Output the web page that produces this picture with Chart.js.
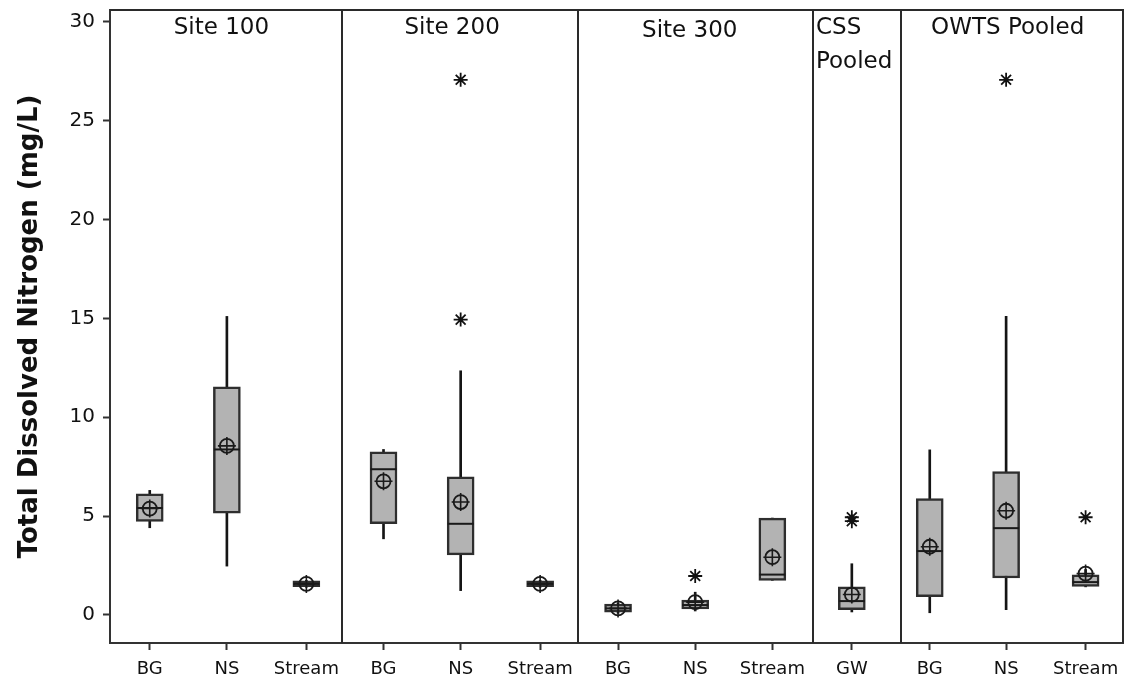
<!DOCTYPE html>
<html lang="en">
<head>
    <meta charset="UTF-8">
    <title>Total Dissolved Nitrogen by Site</title>
    <script src="https://cdn.jsdelivr.net/npm/chart.js@4.4.2/dist/chart.umd.min.js"></script>
    <style>
        body { margin: 0; background: #fff; }
        #wrap { position: relative; width: 1127px; height: 681px; }
    </style>
</head>
<body>
    <div id="wrap"><canvas id="tdnChart"></canvas></div>

    <script>
        // --- Data: one entry per box, left to right ---
        const categories   = ['BG', 'NS', 'Stream', 'BG', 'NS', 'Stream', 'BG', 'NS', 'Stream', 'GW', 'BG', 'NS', 'Stream'];
        const whiskerLow   = [4.41, 2.47, 1.40, 3.85, 1.23, 1.40, 0.08, 0.20, 1.75, 0.15, 0.11, 0.26, 1.42];
        const q1           = [4.73, 5.15, 1.43, 4.61, 3.04, 1.43, 0.14, 0.30, 1.75, 0.26, 0.92, 1.87, 1.44];
        const medians      = [5.41, 8.37, 1.57, 7.37, 4.61, 1.57, 0.33, 0.50, 2.04, 0.70, 3.23, 4.39, 1.66];
        const q3           = [6.13, 11.54, 1.72, 8.25, 6.98, 1.72, 0.55, 0.75, 4.90, 1.42, 5.89, 7.25, 2.03];
        const whiskerHigh  = [6.30, 15.10, 1.75, 8.37, 12.35, 1.75, 0.60, 1.15, 4.90, 2.59, 8.35, 15.10, 2.30];
        const means        = [5.38, 8.55, 1.57, 6.76, 5.71, 1.57, 0.33, 0.65, 2.92, 1.03, 3.45, 5.27, 2.09];
        // outliers as [box index, value]
        const outliers     = [[4, 14.94], [4, 27.07], [7, 1.97], [9, 4.74], [9, 4.94], [11, 27.07], [12, 4.94]];
        const yTicks       = [0, 5, 10, 15, 20, 25, 30];
        const panelTitles  = ['Site 100', 'Site 200', 'Site 300', ['CSS', 'Pooled'], 'OWTS Pooled'];

        // --- Layout on the x axis (slot units, 13 slots wide) ---
        const slotX = [0.51, 1.5, 2.52, 3.51, 4.5, 5.52, 6.52, 7.51, 8.5, 9.52, 10.52, 11.5, 12.52];
        const panelEdges = [2.98, 6, 9.02, 10.15];
        const titleSpots = [
            { x: 1.43, y: 28, align: 'center' },
            { x: 4.39, y: 28, align: 'center' },
            { x: 7.44, y: 31, align: 'center' },
            { x: 9.06, y: 28, align: 'left' },
            { x: 11.52, y: 28, align: 'center' }
        ];

        const FONT = 'DejaVu Sans';
        const INK = '#111';

        const boxData     = slotX.map((x, i) => ({ x, y: [q1[i], q3[i]] }));
        const whiskerData = slotX.map((x, i) => ({ x, y: [whiskerLow[i], whiskerHigh[i]] }));
        const medianData  = slotX.map((x, i) => ({ x, y: medians[i] }));
        const meanData    = slotX.map((x, i) => ({ x, y: means[i] }));
        const outlierData = outliers.map(([i, v]) => ({ x: slotX[i], y: v }));

        // panel dividers, frame and panel headings
        const panelPlugin = {
            id: 'panels',
            afterDatasetsDraw(chart) {
                const { ctx, chartArea: a, scales: { x } } = chart;
                ctx.save();
                ctx.strokeStyle = '#2a2a2a';
                ctx.lineWidth = 2;
                ctx.beginPath();
                panelEdges.forEach(v => {
                    const px = Math.round(x.getPixelForValue(v));
                    ctx.moveTo(px, a.top);
                    ctx.lineTo(px, a.bottom);
                });
                ctx.moveTo(a.left, a.top);
                ctx.lineTo(a.right, a.top);
                ctx.lineTo(a.right, a.bottom);
                ctx.stroke();

                ctx.fillStyle = INK;
                ctx.font = `23px "${FONT}"`;
                ctx.textBaseline = 'middle';
                panelTitles.forEach((t, i) => {
                    const s = titleSpots[i];
                    ctx.textAlign = s.align;
                    const lines = Array.isArray(t) ? t : [t];
                    lines.forEach((ln, k) => {
                        ctx.fillText(ln, x.getPixelForValue(s.x), s.y + k * 34);
                    });
                });
                ctx.restore();
            }
        };

        new Chart(document.getElementById('tdnChart'), {
            type: 'bar',
            data: {
                datasets: [
                    {
                        label: 'Whiskers',
                        data: whiskerData,
                        backgroundColor: '#151515',
                        borderWidth: 0,
                        barThickness: 2,
                        grouped: false,
                        order: 5
                    },
                    {
                        label: 'IQR',
                        data: boxData,
                        backgroundColor: '#b3b3b3',
                        borderColor: '#2e2e2e',
                        borderWidth: 2.5,
                        borderSkipped: false,
                        barThickness: 27,
                        grouped: false,
                        order: 4
                    },
                    {
                        type: 'scatter',
                        label: 'Median',
                        data: medianData,
                        pointStyle: 'line',
                        pointRadius: 13,
                        borderColor: '#1a1a1a',
                        borderWidth: 2,
                        order: 3
                    },
                    {
                        type: 'scatter',
                        label: 'Mean',
                        data: meanData,
                        pointStyle: 'circle',
                        pointRadius: 7,
                        backgroundColor: 'rgba(0,0,0,0)',
                        borderColor: '#1a1a1a',
                        borderWidth: 1.8,
                        order: 2
                    },
                    {
                        type: 'scatter',
                        label: 'Mean cross',
                        data: meanData,
                        pointStyle: 'cross',
                        pointRadius: 9,
                        borderColor: '#1a1a1a',
                        borderWidth: 1.6,
                        order: 1
                    },
                    {
                        type: 'scatter',
                        label: 'Outliers',
                        data: outlierData,
                        pointStyle: 'star',
                        pointRadius: 7,
                        borderColor: '#111',
                        borderWidth: 1.8,
                        order: 0
                    }
                ]
            },
            options: {
                responsive: true,
                maintainAspectRatio: false,
                animation: false,
                layout: { autoPadding: false, padding: { top: 10, right: 4, left: 0, bottom: 0 } },
                plugins: {
                    legend: { display: false },
                    tooltip: { enabled: false }
                },
                scales: {
                    x: {
                        type: 'linear',
                        min: 0,
                        max: 13,
                        offset: false,
                        afterBuildTicks: s => { s.ticks = slotX.map(v => ({ value: v })); },
                        afterFit: s => {
                            s.height = 38;
                            s.paddingLeft = 0;
                            s.paddingRight = 0;
                        },
                        ticks: {
                            autoSkip: false,
                            maxRotation: 0,
                            padding: 9,
                            color: INK,
                            font: { family: FONT, size: 18 },
                            callback: (v, i) => categories[i]
                        },
                        grid: { offset: false, drawOnChartArea: false, tickLength: 7, tickWidth: 2, tickColor: '#333' },
                        border: { color: '#333', width: 2 }
                    },
                    y: {
                        min: -1.42,
                        max: 30.6,
                        afterBuildTicks: s => { s.ticks = yTicks.map(v => ({ value: v })); },
                        afterFit: s => {
                            s.width = 110;
                            s.paddingTop = 0;
                            s.paddingBottom = 0;
                        },
                        ticks: {
                            padding: 8,
                            color: INK,
                            font: { family: FONT, size: 20 }
                        },
                        grid: { drawOnChartArea: false, tickLength: 7, tickWidth: 2, tickColor: '#333' },
                        border: { color: '#333', width: 2 },
                        title: {
                            display: true,
                            text: 'Total Dissolved Nitrogen (mg/L)',
                            color: INK,
                            font: { family: FONT, size: 26, weight: 'bold' },
                            padding: { top: 15, bottom: 0 }
                        }
                    }
                }
            },
            plugins: [panelPlugin]
        });
    </script>
</body>
</html>
